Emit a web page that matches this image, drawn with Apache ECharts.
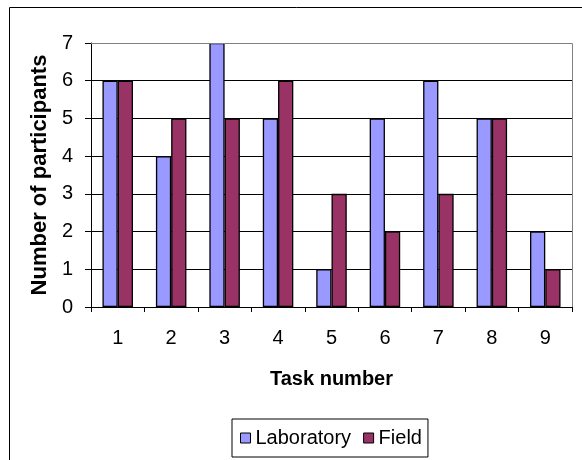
<!DOCTYPE html>
<html>
<head>
<meta charset="utf-8">
<script src="https://cdn.jsdelivr.net/npm/echarts@6/dist/echarts.min.js"></script>
<style>
  html, body { margin: 0; padding: 0; background: #fff; }
  #chart { width: 582px; height: 460px; }
</style>
</head>
<body>
<div id="chart"></div>
<script>
// Participants per task, laboratory vs field study
const tasks = ['1', '2', '3', '4', '5', '6', '7', '8', '9'];
const laboratory = [6, 4, 7, 5, 1, 5, 6, 5, 2];
const field = [6, 5, 5, 6, 3, 2, 3, 5, 1];

const FONT = '"Liberation Sans", Arial, sans-serif';
const SIZE = 20;

const chart = echarts.init(document.getElementById('chart'), null, { renderer: 'canvas' });
chart.setOption({
  animation: false,
  backgroundColor: '#ffffff',
  textStyle: { fontFamily: FONT },
  graphic: [
    {
      type: 'rect',
      shape: { x: 9.5, y: 7.5, width: 600, height: 500 },
      style: { fill: 'none', stroke: '#000', lineWidth: 1 },
      silent: true
    },
    {
      // top and right edges of the plot area
      type: 'polyline',
      shape: { points: [[91, 43.5], [572.5, 43.5], [572.5, 307]] },
      style: { fill: 'none', stroke: '#808080', lineWidth: 1 },
      silent: true,
      z: 10
    }
  ],
  grid: { left: 91, right: 10, top: 43, bottom: 153, containLabel: false },
  legend: {
    data: ['Laboratory', 'Field'],
    bottom: 3,
    left: 232,
    itemWidth: 10,
    itemHeight: 10,
    itemGap: 12,
    icon: 'rect',
    padding: [9, 6, 9, 8],
    borderColor: '#000',
    borderWidth: 1,
    textStyle: { fontSize: SIZE, fontFamily: FONT, color: '#000', padding: [0, 0, 0, 0] },
    itemStyle: { borderColor: '#000', borderWidth: 1 }
  },
  xAxis: {
    type: 'category',
    data: tasks,
    name: 'Task number',
    nameLocation: 'middle',
    nameGap: 62,
    nameTextStyle: { fontSize: SIZE, fontWeight: 'bold', color: '#000', fontFamily: FONT },
    axisLine: { lineStyle: { color: '#000', width: 1 } },
    axisTick: { show: true, length: 5, lineStyle: { color: '#000' } },
    axisLabel: { fontSize: SIZE, color: '#000', margin: 21, fontFamily: FONT },
    splitLine: { show: false }
  },
  yAxis: {
    type: 'value',
    min: 0,
    max: 7,
    interval: 1,
    name: 'Number of participants',
    nameLocation: 'middle',
    nameGap: 38,
    nameTextStyle: { fontSize: 22, fontWeight: 'bold', color: '#000', fontFamily: FONT },
    axisLine: { show: true, lineStyle: { color: '#000', width: 1 } },
    axisTick: { show: true, length: 6, lineStyle: { color: '#000' } },
    axisLabel: { fontSize: SIZE, color: '#000', margin: 18, fontFamily: FONT },
    splitLine: { show: true, lineStyle: { color: '#000', width: 1 } }
  },
  series: [
    {
      name: 'Laboratory',
      type: 'bar',
      data: laboratory,
      barGap: '0%',
      barCategoryGap: '42.9%',
      itemStyle: { color: '#9999FF', borderColor: '#000', borderWidth: 1.3 }
    },
    {
      name: 'Field',
      type: 'bar',
      data: field,
      barGap: '0%',
      barCategoryGap: '42.9%',
      itemStyle: { color: '#993366', borderColor: '#000', borderWidth: 1.3 }
    }
  ]
});
</script>
</body>
</html>
